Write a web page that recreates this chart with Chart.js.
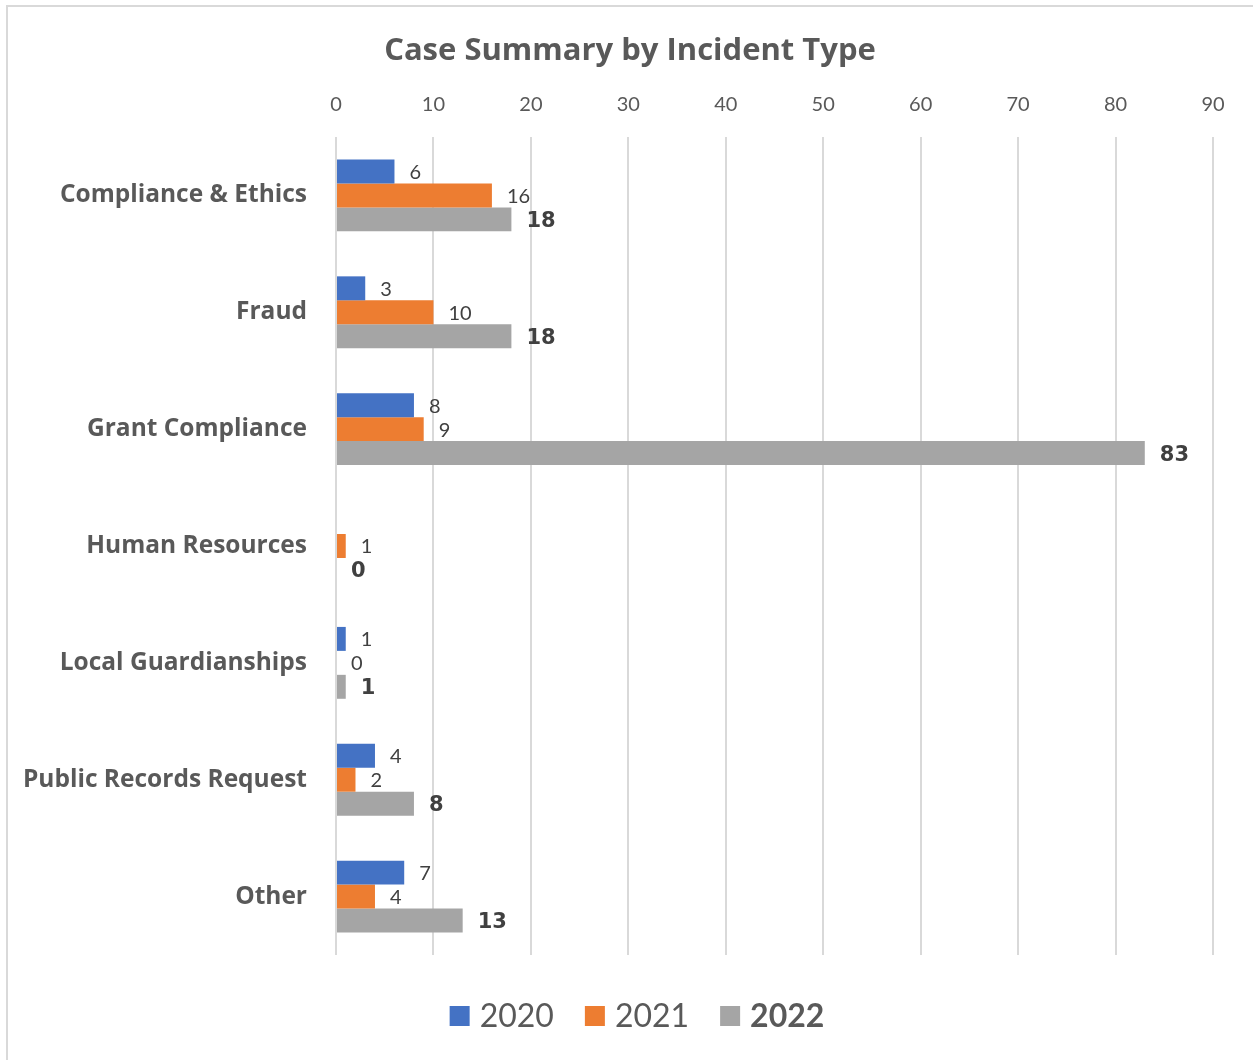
<!DOCTYPE html>
<html>
<head>
<meta charset="utf-8">
<title>Case Summary by Incident Type</title>
<script src="https://cdn.jsdelivr.net/npm/chart.js@4.4.1/dist/chart.umd.min.js"></script>
<style>
  html, body { margin: 0; padding: 0; background: #fff; overflow: hidden; }
  #wrap { position: relative; width: 1253px; height: 1060px; }
</style>
</head>
<body>
<div id="wrap"><canvas id="chart"></canvas></div>
<script>
  // données
  var chartTitle = 'Case Summary by Incident Type';
  var categories = ['Compliance & Ethics', 'Fraud', 'Grant Compliance', 'Human Resources', 'Local Guardianships', 'Public Records Request', 'Other'];
  var years = ['2020', '2021', '2022'];
  var cases2020 = [6, 3, 8, null, 1, 4, 7];
  var cases2021 = [16, 10, 9, 1, 0, 2, 4];
  var cases2022 = [18, 18, 83, 0, 1, 8, 13];
  var xTicks = [0, 10, 20, 30, 40, 50, 60, 70, 80, 90];

  var COLORS = ['#4472C4', '#ED7D31', '#A5A5A5'];
  var TXT = '#595959';

  // étiquettes de valeur à droite des barres
  var valueLabels = {
    id: 'valueLabels',
    afterDatasetsDraw: function (chart) {
      var c = chart.ctx;
      c.save();
      c.textBaseline = 'middle';
      c.textAlign = 'left';
      chart.data.datasets.forEach(function (ds, di) {
        var meta = chart.getDatasetMeta(di);
        var bold = di === 2;
        c.font = bold ? 'bold 21px "DejaVu Sans"' : '20px Lato';
        c.fillStyle = '#404040';
        meta.data.forEach(function (bar, i) {
          var v = ds.data[i];
          if (v === null || v === undefined) return;
          c.fillText(String(v), bar.x + 15, bar.y + (bold ? 2 : 1));
        });
      });
      c.restore();
    }
  };

  // cadre, titre et légende (2022 en gras)
  var frameLegend = {
    id: 'frameLegend',
    beforeDraw: function (chart) {
      var c = chart.ctx;
      c.save();
      c.fillStyle = '#d9d9d9';
      c.fillRect(6, 5, 2, 1055);
      c.fillRect(6, 5, 1247, 2);
      c.restore();
    },
    afterDraw: function (chart) {
      var c = chart.ctx;
      c.save();
      c.textBaseline = 'middle';
      c.textAlign = 'center';
      c.font = 'bold 31px "Open Sans"';
      c.fillStyle = TXT;
      c.fillText(chartTitle, 630, 51);

      var box = 20, gapTxt = 10, gapItem = 31, cy = 1016;
      c.textAlign = 'left';
      var widths = years.map(function (y, i) {
        c.font = (i === 2 ? 'bold ' : '') + '32px Lato';
        return c.measureText(y).width;
      });
      var total = widths.reduce(function (s, w) { return s + box + gapTxt + w; }, 0) + gapItem * (years.length - 1);
      var x = 637 - total / 2;
      years.forEach(function (y, i) {
        c.fillStyle = COLORS[i];
        c.fillRect(x, cy - box / 2, box, box);
        x += box + gapTxt;
        c.font = (i === 2 ? 'bold ' : '') + '32px Lato';
        c.fillStyle = TXT;
        c.fillText(y, x, cy + 1);
        x += widths[i] + gapItem;
      });
      c.restore();
    }
  };

  new Chart(document.getElementById('chart'), {
    type: 'bar',
    data: {
      labels: categories,
      datasets: [
        { label: years[0], data: cases2020, backgroundColor: COLORS[0] },
        { label: years[1], data: cases2021, backgroundColor: COLORS[1] },
        { label: years[2], data: cases2022, backgroundColor: COLORS[2] }
      ]
    },
    options: {
      indexAxis: 'y',
      responsive: true,
      maintainAspectRatio: false,
      animation: false,
      datasets: { bar: { categoryPercentage: 0.615, barPercentage: 1 } },
      layout: { padding: { left: 14, right: 40, top: 78, bottom: 105 } },
      plugins: {
        legend: { display: false },
        tooltip: { enabled: false },
        title: { display: false }
      },
      scales: {
        x: {
          position: 'top',
          min: 0,
          max: 90,
          afterBuildTicks: function (scale) {
            scale.ticks = xTicks.map(function (v) { return { value: v }; });
          },
          afterFit: function (scale) { scale.height = 59; },
          grid: { color: '#d9d9d9', lineWidth: 2, drawTicks: false },
          border: { display: false },
          ticks: { color: TXT, padding: 20, font: { family: 'Lato', size: 20 } }
        },
        y: {
          afterFit: function (scale) { scale.width = 322; },
          grid: { display: false, drawTicks: false },
          border: { display: false },
          ticks: { color: TXT, padding: 29, font: { family: '"Open Sans"', size: 24.5, weight: 'bold' } }
        }
      }
    },
    plugins: [valueLabels, frameLegend]
  });
</script>
</body>
</html>
